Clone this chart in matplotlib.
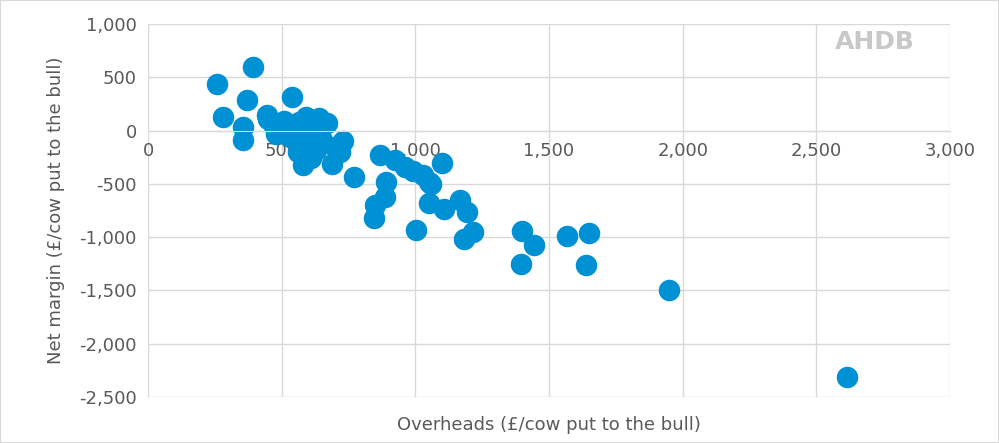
import matplotlib
matplotlib.use('Agg')
import matplotlib.pyplot as plt
import matplotlib.ticker as ticker

# overheads (£/cow) and net margin (£/cow)
overheads = [258, 281, 393, 370, 355, 355, 539, 445, 450, 470, 480, 510, 545, 565, 590, 610, 640, 670,
             505, 530, 560, 585, 600, 620, 650, 700, 730, 560, 580, 610, 630, 690, 720, 590, 770,
             868, 925, 960, 990, 1030, 1050, 890, 885, 850, 845, 1004, 1100, 1060, 1167, 1193,
             1182, 1216, 1107, 1051, 1399, 1444, 1395, 1567, 1650, 1639, 1949, 2615]
net_margin = [440, 131, 600, 290, 37, -84, 319, 150, 110, 40, -30, 90, 20, 80, 130, -10, 120, 70,
              -20, -60, -40, 0, -120, -150, -90, -150, -100, -200, -320, -260, -180, -310, -200, -280, -440,
              -225, -280, -340, -380, -420, -480, -480, -620, -700, -820, -930, -300, -500, -647, -760,
              -1020, -950, -740, -675, -940, -1070, -1256, -993, -965, -1265, -1500, -2315]

fig = plt.figure(figsize=(9.99, 4.43), dpi=100)
fig.patches.append(plt.Rectangle((0, 0), 1, 1, transform=fig.transFigure, fill=False,
                                 edgecolor='#d9d9d9', linewidth=1.5))
ax = fig.add_axes([148 / 999, 46 / 443, 802 / 999, 373 / 443])
ax.scatter(overheads, net_margin, s=240, color='#0090d4', zorder=2, linewidths=0)
ax.set_xlim(0, 3000)
ax.set_ylim(-2500, 1000)
ax.xaxis.set_major_locator(ticker.MultipleLocator(500))
ax.yaxis.set_major_locator(ticker.MultipleLocator(500))
fmt = ticker.FuncFormatter(lambda v, p: f'{int(v):,}')
ax.xaxis.set_major_formatter(fmt)
ax.yaxis.set_major_formatter(fmt)
ax.grid(True, color='#d9d9d9', linewidth=1, zorder=0)
ax.set_axisbelow(True)
for s in ['top', 'right', 'left']:
    ax.spines[s].set_visible(False)
ax.spines['bottom'].set_position(('data', 0))
ax.spines['bottom'].set_color('#d9d9d9')
ax.tick_params(length=0, labelsize=13, colors='#595959', pad=8)
for lab in ax.get_xticklabels():
    lab.set_zorder(5)
ax.set_xlabel('Overheads (£/cow put to the bull)', fontsize=13, color='#595959')
ax.xaxis.set_label_coords(0.5, -0.05)
ax.set_ylabel('Net margin (£/cow put to the bull)', fontsize=13, color='#595959', labelpad=10)
fig.text(0.876, 0.89, 'AHDB', fontsize=18, color='#c8c8c8', ha='center', fontweight='bold')
fig.savefig('out.png')
